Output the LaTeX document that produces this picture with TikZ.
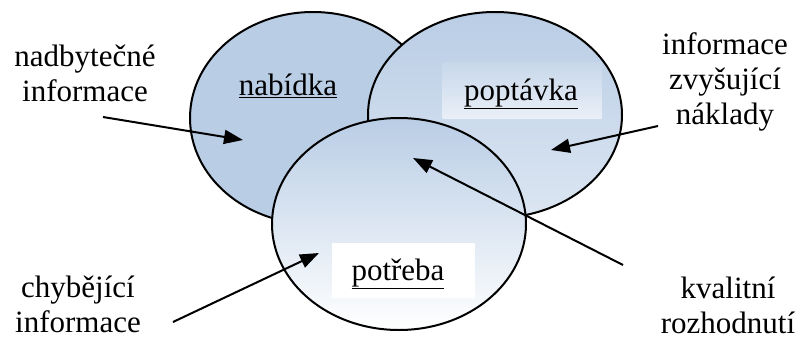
\documentclass[tikz,border=0pt]{standalone}
\usepackage{fontspec}
\setmainfont{Liberation Serif}
\usetikzlibrary{arrows.meta}
\usetikzlibrary{positioning}

\definecolor{setblue}{HTML}{B9CDE5}
\definecolor{setpale}{HTML}{DCE6F2}
\definecolor{boxpale}{HTML}{E9EFF7}

\tikzset{
  setline/.style={draw=black, line width=2pt},
  pointer/.style={line width=2pt, -{Triangle[length=19pt,width=14pt]}},
  label/.style={align=center, inner sep=0pt, font=\fontsize{31}{35}\selectfont},
  setname/.style={inner sep=0pt, font=\fontsize{31}{35}\selectfont},
}

\begin{document}
\begin{tikzpicture}[x=1pt,y=-1pt]

  \useasboundingbox (0,0) rectangle (795,340);

  % the three sets
  \coordinate (L) at (313,118);
  \coordinate (R) at (495,115);
  \coordinate (B) at (399,224);

  % supply
  \fill[setblue] (L) ellipse [x radius=123pt, y radius=106pt];
  \draw[setline] (L) ellipse [x radius=123pt, y radius=106pt];
  \node[setname, anchor=base] (nabidka) at (288,95) {\underline{nabídka}};

  % demand
  \shade[top color=setblue, bottom color=setpale] (R) ellipse [x radius=127pt, y radius=103pt];
  \draw[setline] (R) ellipse [x radius=127pt, y radius=103pt];
  \node[top color=setblue!80!white, bottom color=boxpale, minimum width=159pt,
        minimum height=56pt, inner sep=0pt] (popbox) at (522,90) {};
  \node[setname, anchor=base] (poptavka) at (521,100) {\underline{poptávka}};

  % need
  \shade[top color=setblue, bottom color=white] (B) ellipse [x radius=127pt, y radius=106pt];
  \draw[setline] (B) ellipse [x radius=127pt, y radius=106pt];
  \node[fill=white, minimum width=143pt, minimum height=55pt, inner sep=0pt] (potbox) at (403,270) {};
  \node[setname, anchor=base] (potreba) at (398,280) {\underline{potřeba}};

  % outside labels
  \node[label] (nadb) at (85,73) {nadbytečné\\informace};
  \node[label] (chyb) at (78,304) {chybějící\\informace};
  \node[label] (nakl) at (725,82) {informace\\zvyšující\\náklady};
  \node[label] (kval) at (728,305) {kvalitní\\rozhodnutí};

  % arrow ends
  \coordinate (nadbfrom) at (103,117);
  \coordinate (nadbto)   at (243,140);
  \coordinate (chybfrom) at (173,322);
  \coordinate (chybto)   at (319,253);
  \coordinate (naklfrom) at (658,126);
  \coordinate (naklto)   at (551,150);
  \coordinate (kvalfrom) at (623,265);
  \coordinate (kvalto)   at (413,158);

  \draw[pointer] (nadbfrom) -- (nadbto);
  \draw[pointer] (chybfrom) -- (chybto);
  \draw[pointer] (naklfrom) -- (naklto);
  \draw[pointer] (kvalfrom) -- (kvalto);

\end{tikzpicture}
\end{document}
